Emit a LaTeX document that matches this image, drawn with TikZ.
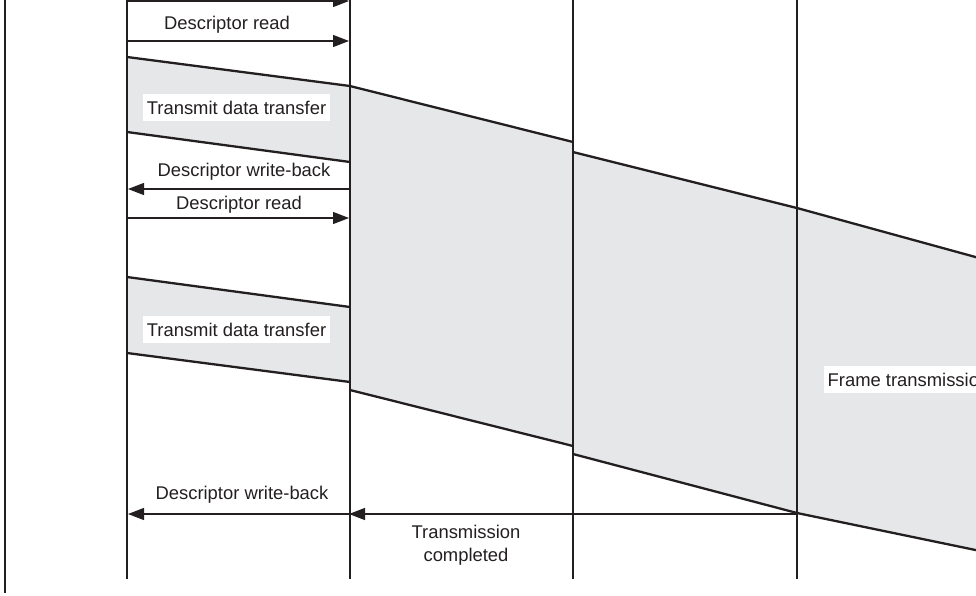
\documentclass[tikz,border=0pt]{standalone}
\usepackage{fontspec}
\setmainfont{Liberation Sans}
\usetikzlibrary{arrows.meta}
\definecolor{bandgray}{HTML}{E6E7E8}
\definecolor{ink}{HTML}{231F20}
\begin{document}
\begin{tikzpicture}[x=1pt,y=-1pt,
  lane/.style={line width=2pt, draw=ink},
  edgeline/.style={line width=2.3pt, draw=ink},
  msg/.style={line width=1.2pt, draw=ink, -{Triangle[length=16pt,width=12pt]}},
  lbl/.style={font=\fontsize{18.4}{23}\selectfont, text=ink, inner sep=0pt, align=center},
  boxlbl/.style={lbl, fill=white, inner xsep=3.5pt, minimum height=27pt},
  band/.style={fill=bandgray}]
\useasboundingbox (0,0) rectangle (976,595);
\clip (0,0) rectangle (976,595);

% lane coordinates
\foreach \n/\x in {a/127,b/350,c/573,d/797}{
  \coordinate (\n top) at (\x,-5);
  \coordinate (\n bot) at (\x,579);
}
\coordinate (frametop) at (5,-5);
\coordinate (framebot) at (5,593);

% bands (fills)
\fill[band] (127,57) -- (350,86) -- (350,162) -- (127,132) -- cycle;
\fill[band] (127,277) -- (350,307) -- (350,382) -- (127,353) -- cycle;
\fill[band] (350,86) -- (573,142) -- (573,446) -- (350,390) -- cycle;
\fill[band] (573,152) -- (797,208) -- (797,513) -- (573,454) -- cycle;
\fill[band] (797,208) -- (990,261) -- (990,553) -- (797,513) -- cycle;

% band edges
\draw[edgeline] (127,57) -- (350,86) -- (573,142);
\draw[edgeline] (127,132) -- (350,162);
\draw[edgeline] (127,277) -- (350,307);
\draw[edgeline] (127,353) -- (350,382);
\draw[edgeline] (350,390) -- (573,446);
\draw[edgeline] (573,152) -- (797,208) -- (990,261);
\draw[edgeline] (573,454) -- (797,513) -- (990,553);

% lanes
\draw[line width=2.4pt, draw=ink] (frametop) -- (framebot);
\foreach \n in {a,b,c,d}{ \draw[lane] (\n top) -- (\n bot); }

% message coordinates
\foreach \n/\y in {m0/1,m1/41,m2/189,m3/218,m4/514}{
  \coordinate (\n a) at (128,\y);
  \coordinate (\n b) at (349,\y);
}
\coordinate (m4d) at (797,514);

% messages
\draw[msg] (m0a) -- (m0b);
\draw[msg] (m1a) -- (m1b);
\draw[msg] (m2b) -- (m2a);
\draw[msg] (m3a) -- (m3b);
\draw[msg] (m4b) -- (m4a);
\draw[msg] (m4d) -- (m4b);

% labels
\node[lbl] (l1) at (227,25) {Descriptor read};
\node[boxlbl] (l2) at (236.5,107.5) {Transmit data transfer};
\node[lbl] (l3) at (244,172) {Descriptor write-back};
\node[lbl] (l4) at (239,205) {Descriptor read};
\node[boxlbl] (l5) at (236.5,329.5) {Transmit data transfer};
\node[lbl] (l6) at (242,495) {Descriptor write-back};
\node[lbl] (l7) at (466,545.5) {Transmission\\completed};
\node[boxlbl, anchor=west] (l8) at (824,379.5) {Frame transmission};
\end{tikzpicture}
\end{document}
